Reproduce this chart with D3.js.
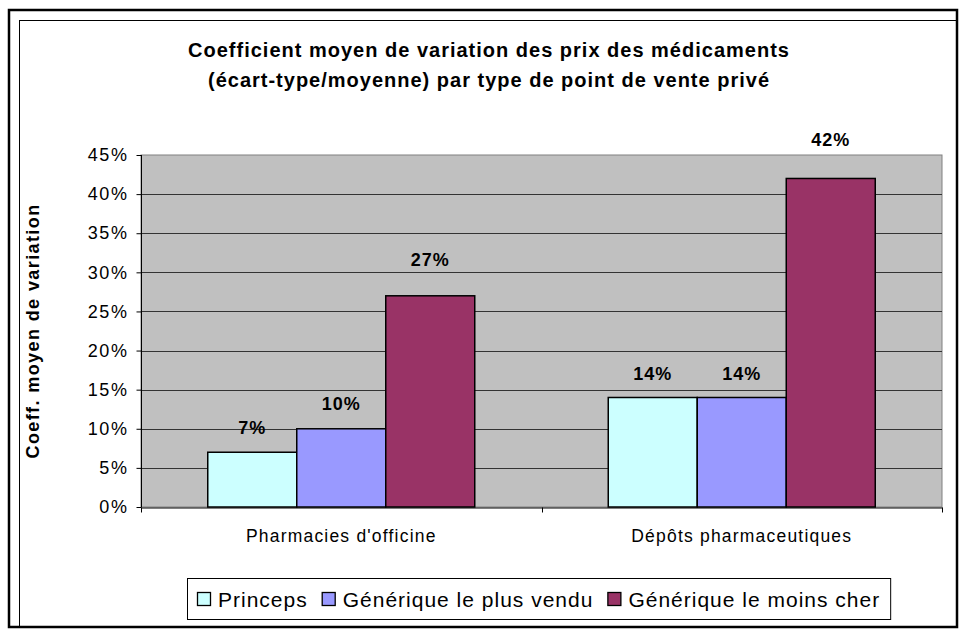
<!DOCTYPE html>
<html>
<head>
<meta charset="utf-8">
<script src="https://cdn.jsdelivr.net/npm/d3@7"></script>
<style>
  body { margin: 0; background: #fff; }
  text { font-family: "Liberation Sans", Arial, sans-serif; }
</style>
</head>
<body>
<div id="chart"></div>
<script>
"use strict";

const categories = ["Pharmacies d'officine", "Dépôts pharmaceutiques"];
const seriesNames = ["Princeps", "Générique le plus vendu", "Générique le moins cher"];
const princeps = [0.07, 0.14];
const generiquePlusVendu = [0.10, 0.14];
const generiqueMoinsCher = [0.27, 0.42];
const yTicks = [0, 0.05, 0.10, 0.15, 0.20, 0.25, 0.30, 0.35, 0.40, 0.45];
const titleLines = [
  "Coefficient moyen de variation des prix des médicaments",
  "(écart-type/moyenne) par type de point de vente privé"
];
const yTitle = "Coeff. moyen de variation";

const colors = ["#CCFFFF", "#9999FF", "#993366"];
// lift of each value label above its bar, as placed in the original
const labelLift = [[18, 19, 30], [17, 17, 32]];

const size = {
  width: 961,
  height: 632,
  plotLeft: 141,
  plotRight: 942,
  plotTop: 155,
  plotBottom: 507
};

const svg = d3.select("#chart")
  .append("svg")
  .attr("width", size.width)
  .attr("height", size.height);

// frames
svg.append("rect")
  .attr("x", 9).attr("y", 10)
  .attr("width", 948).attr("height", 617)
  .attr("fill", "none")
  .attr("stroke", "#000")
  .attr("stroke-width", 2.5);
svg.append("rect")
  .attr("x", 19.5).attr("y", 20.5)
  .attr("width", 937).attr("height", 606)
  .attr("fill", "none")
  .attr("stroke", "#000")
  .attr("stroke-width", 1);

const series = [princeps, generiquePlusVendu, generiqueMoinsCher];

const x0 = d3.scaleBand()
  .domain(categories)
  .range([size.plotLeft, size.plotRight])
  .padding(0);

const x1 = d3.scaleBand()
  .domain(d3.range(seriesNames.length))
  .range([0, x0.bandwidth()])
  .paddingInner(0)
  .paddingOuter(0.75);

const y = d3.scaleLinear()
  .domain([0, 0.45])
  .range([size.plotBottom, size.plotTop]);

// plot background
svg.append("rect")
  .attr("x", size.plotLeft)
  .attr("y", size.plotTop)
  .attr("width", size.plotRight - size.plotLeft)
  .attr("height", size.plotBottom - size.plotTop)
  .attr("fill", "#C0C0C0")
  .attr("stroke", "#808080")
  .attr("stroke-width", 1);

// gridlines
svg.append("g")
  .selectAll("line")
  .data(yTicks.filter(d => d > 0 && d < 0.45))
  .enter()
  .append("line")
  .attr("x1", size.plotLeft)
  .attr("x2", size.plotRight)
  .attr("y1", d => Math.round(y(d)) + 0.5)
  .attr("y2", d => Math.round(y(d)) + 0.5)
  .attr("stroke", "#333")
  .attr("stroke-width", 1);

// y axis
const yAxis = d3.axisLeft(y)
  .tickValues(yTicks)
  .tickFormat(d3.format(".0%"))
  .tickSize(5)
  .tickPadding(8);
const yg = svg.append("g")
  .attr("transform", "translate(" + (size.plotLeft + 0.5) + ",0)")
  .call(yAxis);
yg.selectAll("text")
  .style("font-size", "18px")
  .style("letter-spacing", "1.6px")
  .attr("fill", "#000");
yg.selectAll("line, path").attr("stroke", "#000");
yg.select(".domain").attr("d", "M0," + size.plotTop + "V" + size.plotBottom);

// bars
const groups = svg.append("g")
  .selectAll("g")
  .data(categories)
  .enter()
  .append("g")
  .attr("transform", d => "translate(" + x0(d) + ",0)");

groups.selectAll("rect")
  .data((c, ci) => series.map((s, si) => ({ si: si, ci: ci, v: s[ci] })))
  .enter()
  .append("rect")
  .attr("x", d => x1(d.si))
  .attr("y", d => y(d.v))
  .attr("width", x1.bandwidth())
  .attr("height", d => y(0) - y(d.v))
  .attr("fill", d => colors[d.si])
  .attr("stroke", "#000")
  .attr("stroke-width", 1.5);

groups.selectAll("text")
  .data((c, ci) => series.map((s, si) => ({ si: si, ci: ci, v: s[ci] })))
  .enter()
  .append("text")
  .attr("x", d => x1(d.si) + x1.bandwidth() / 2)
  .attr("y", d => y(d.v) - labelLift[d.ci][d.si])
  .attr("text-anchor", "middle")
  .style("font-size", "18px")
  .style("font-weight", "bold")
  .style("letter-spacing", "1px")
  .text(d => d3.format(".0%")(d.v));

// x axis
const xAxis = d3.axisBottom(x0).tickSize(0).tickPadding(22);
const xg = svg.append("g")
  .attr("transform", "translate(0," + (size.plotBottom + 0.5) + ")")
  .call(xAxis);
xg.selectAll("text")
  .style("font-size", "17.5px")
  .style("letter-spacing", "1.2px")
  .attr("fill", "#000");
xg.select(".domain").attr("stroke", "#000");
xg.selectAll(".sep")
  .data([size.plotLeft, (size.plotLeft + size.plotRight) / 2, size.plotRight])
  .enter()
  .append("line")
  .attr("x1", d => Math.round(d) + 0.5)
  .attr("x2", d => Math.round(d) + 0.5)
  .attr("y1", 0)
  .attr("y2", 5)
  .attr("stroke", "#000");

// title
svg.append("g")
  .selectAll("text")
  .data(titleLines)
  .enter()
  .append("text")
  .attr("x", 489)
  .attr("y", (d, i) => 57 + i * 30)
  .attr("text-anchor", "middle")
  .style("font-size", "20px")
  .style("font-weight", "bold")
  .style("letter-spacing", "1px")
  .text(d => d);

// y axis title
svg.append("text")
  .attr("transform", "translate(39," + ((size.plotTop + size.plotBottom) / 2) + ") rotate(-90)")
  .attr("text-anchor", "middle")
  .style("font-size", "18px")
  .style("font-weight", "bold")
  .style("letter-spacing", "1.4px")
  .text(yTitle);

// legend
const legend = svg.append("g");
const legendBox = legend.append("rect")
  .attr("fill", "#fff")
  .attr("stroke", "#000")
  .attr("stroke-width", 1);

let cursor = 197;
const legendY = 599;
seriesNames.forEach((name, i) => {
  legend.append("rect")
    .attr("x", cursor + 0.5)
    .attr("y", legendY - 6.5)
    .attr("width", 13)
    .attr("height", 13)
    .attr("fill", colors[i])
    .attr("stroke", "#000")
    .attr("stroke-width", 1.3);
  const t = legend.append("text")
    .attr("x", cursor + 21)
    .attr("y", legendY + 7.5)
    .style("font-size", "21px")
    .style("letter-spacing", "1px")
    .text(name);
  cursor += 21 + t.node().getComputedTextLength() + 14;
});
legendBox
  .attr("x", 187.5)
  .attr("y", 578.5)
  .attr("width", cursor - 4 - 187)
  .attr("height", 41);
</script>
</body>
</html>
